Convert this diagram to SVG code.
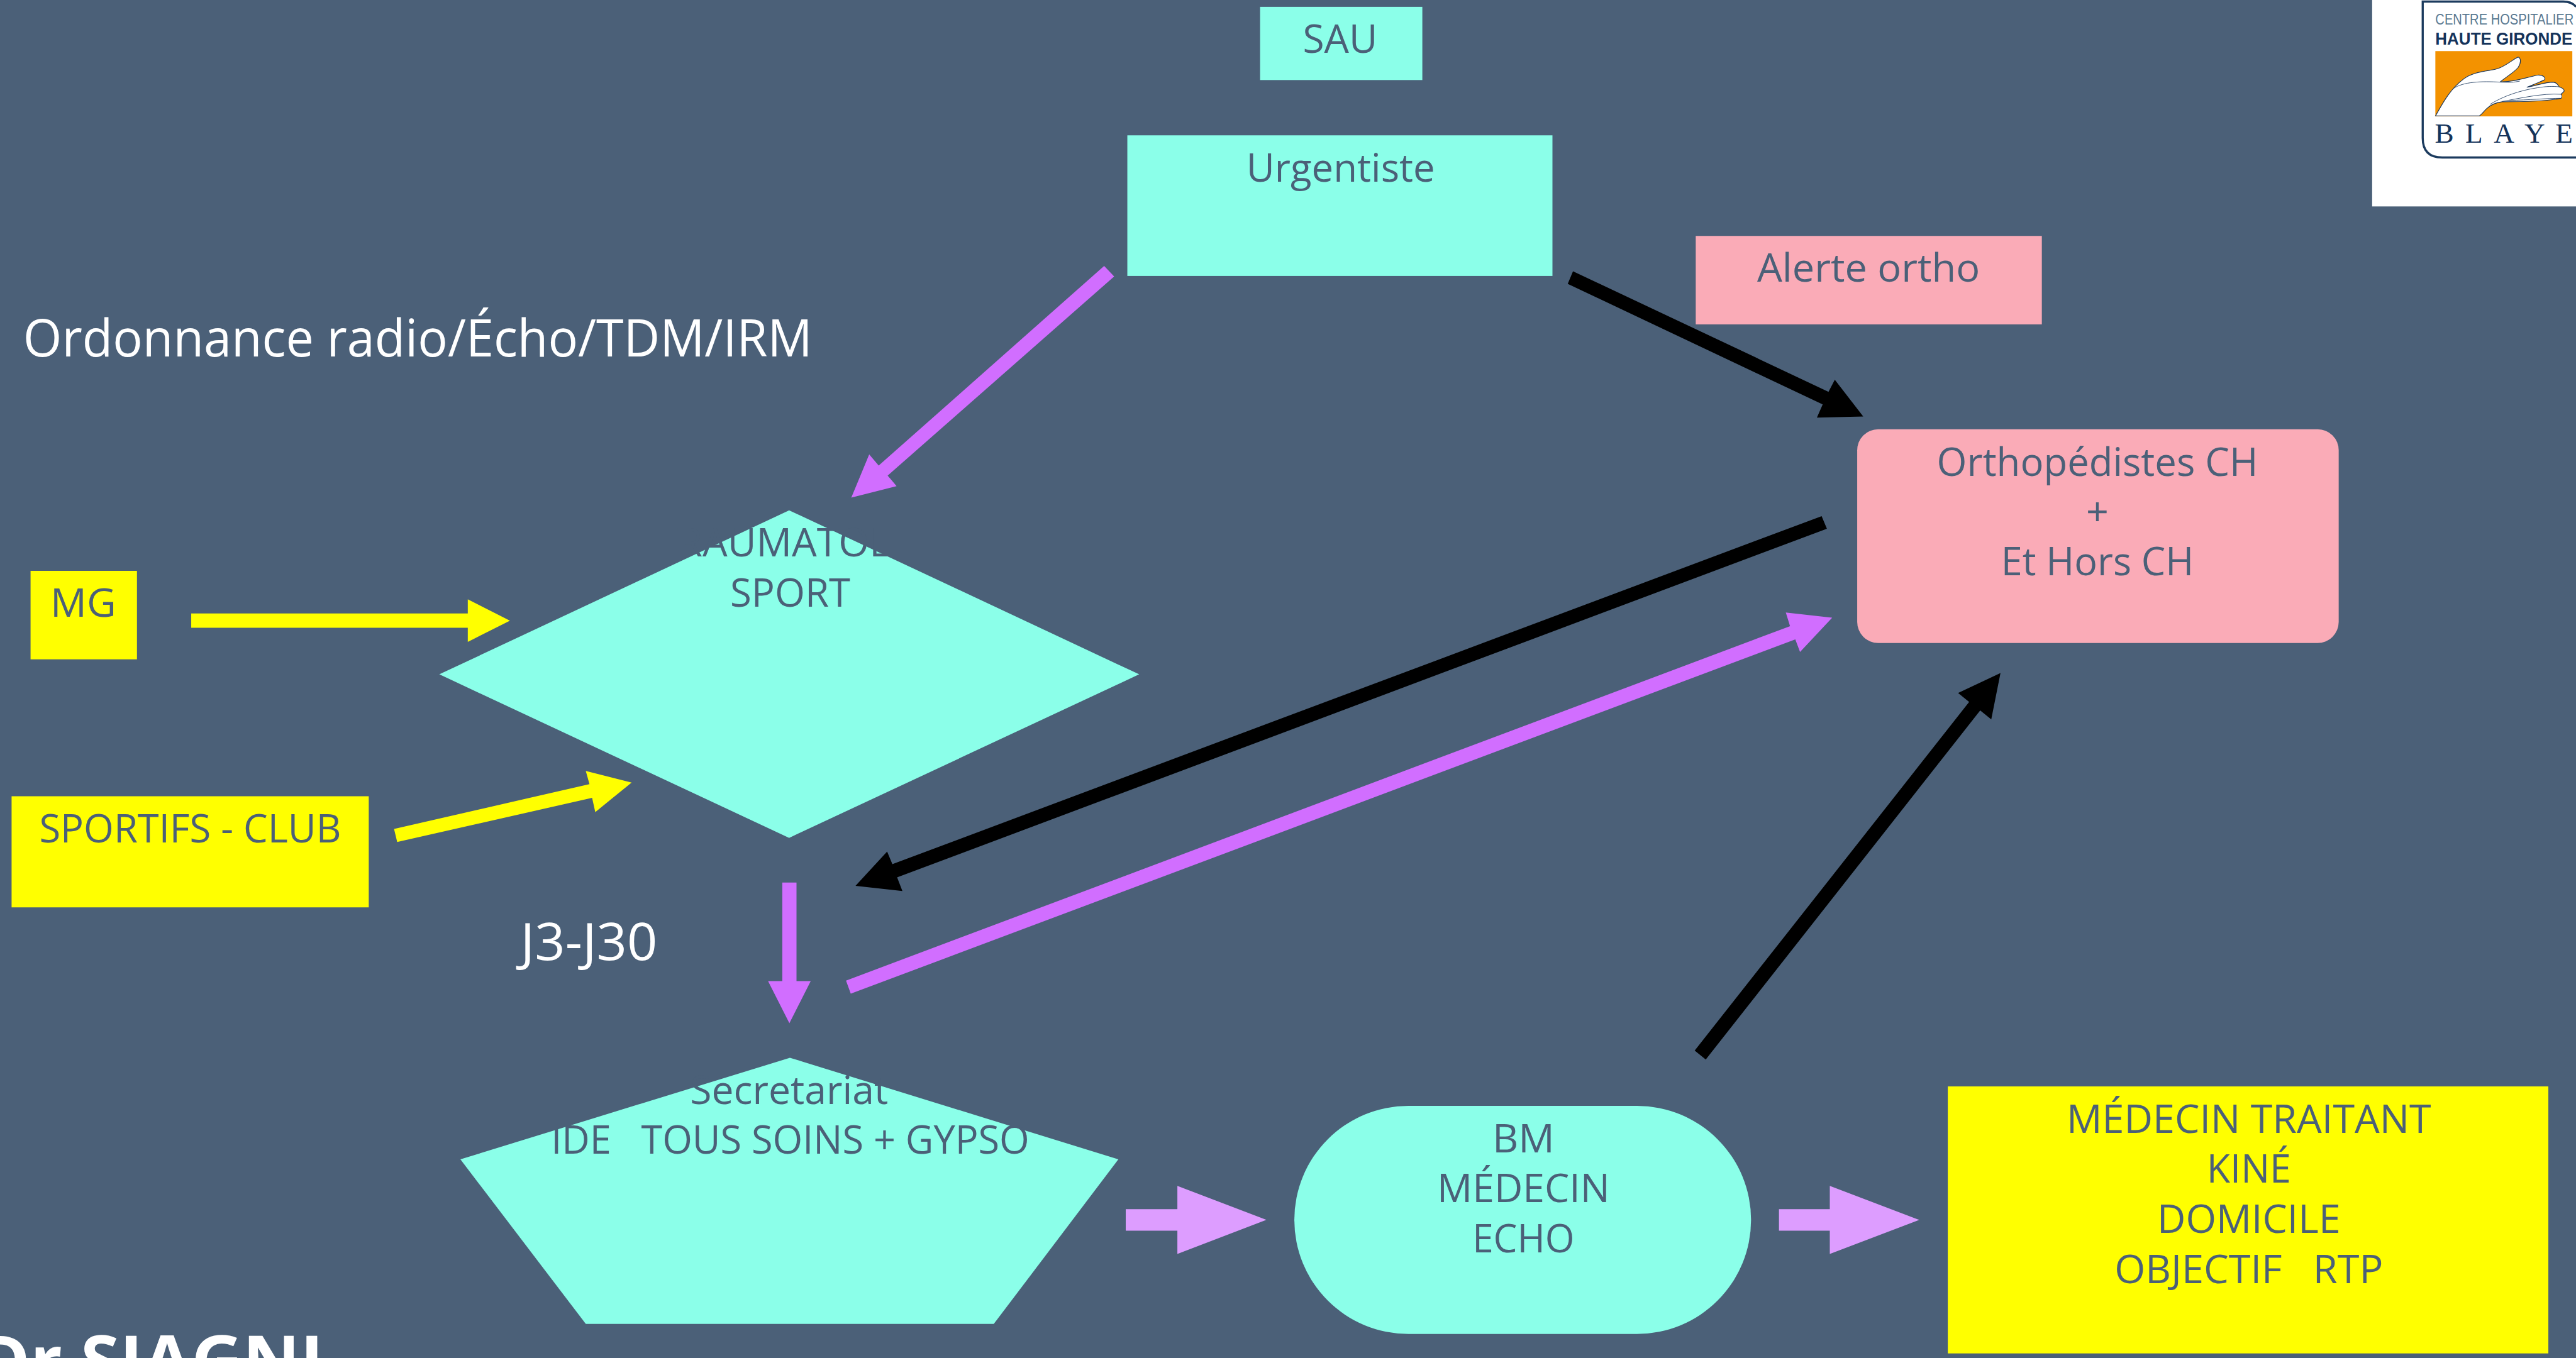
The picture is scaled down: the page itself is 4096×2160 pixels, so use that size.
<svg xmlns="http://www.w3.org/2000/svg" width="4096" height="2160" viewBox="0 0 4096 2160">
<style>
.t{font-family:"Open Sans","Liberation Sans",sans-serif;font-size:75px;fill:#4B6078;text-anchor:middle}
.w{font-family:"Open Sans","Liberation Sans",sans-serif;fill:#fff}
.aq{fill:#8BFFE9}.pk{fill:#FAABB7}.ye{fill:#FFFF00}
.vi{fill:#D16EFF}.bk{fill:#000}.ly{fill:#DD9DFF}.yl{fill:#FFFF00}
</style>
<rect width="4096" height="2160" fill="#4B6078"/>
<g transform="scale(0.83763)">
<g id="connectors">
<polygon class="vi" points="2096,505 2115,525 1685,903 1702,923 1616,945 1650,863 1668,884"/>
<polygon class="bk" points="2986,515 2976,539 3460,768 3449,793 3537,791 3483,721 3471,744"/>
<polygon class="yl" points="363,1165 888,1165 888,1138 968,1178.5 888,1219 888,1192 363,1192"/>
<polygon class="yl" points="748,1574 754,1599 1124,1515 1130,1542 1199,1486 1112,1464 1119,1489"/>
<polygon class="bk" points="3458,980 3468,1004 1703,1666 1713,1692 1624,1682 1684,1617 1694,1641"/>
<polygon class="vi" points="1606,1862 1615,1887 3408,1214 3417,1238 3478,1173 3390,1163 3398,1189"/>
<polygon class="vi" points="1485,1676 1512,1676 1512,1863 1539,1863 1498.5,1943 1458,1863 1485,1863"/>
<polygon class="bk" points="3217,1995 3238,2012 3759,1349 3780,1366 3797.5,1278 3717,1316 3738,1333"/>
<polygon class="ly" points="2137,2296 2235,2296 2235,2252 2404,2316.5 2235,2381 2235,2337 2137,2337"/>
<polygon class="ly" points="3377,2296 3473.5,2296 3473.5,2252 3643.5,2316.5 3473.5,2381 3473.5,2337 3377,2337"/>
</g>
<g id="sau"><rect class="aq" x="2392" y="13" width="308" height="139"/><text class="t" x="2544" y="100" textLength="142" lengthAdjust="spacingAndGlyphs">SAU</text></g>
<g id="urgentiste"><rect class="aq" x="2140" y="257" width="807" height="267"/><text class="t" x="2545" y="345.5" textLength="358" lengthAdjust="spacingAndGlyphs">Urgentiste</text></g>
<g id="alerte"><rect class="pk" x="3219" y="448" width="657" height="168"/><text class="t" x="3547" y="535" textLength="423" lengthAdjust="spacingAndGlyphs">Alerte ortho</text></g>
<g id="ordonnance"><text class="w" x="44" y="677" font-size="98" textLength="1498" lengthAdjust="spacingAndGlyphs">Ordonnance radio/Écho/TDM/IRM</text></g>
<g id="mg"><rect class="ye" x="58" y="1084" width="202" height="168"/><text class="t" x="158" y="1171" textLength="125" lengthAdjust="spacingAndGlyphs">MG</text></g>
<g id="sportifs"><rect class="ye" x="22" y="1512" width="678" height="211"/><text class="t" x="361" y="1600" textLength="573" lengthAdjust="spacingAndGlyphs">SPORTIFS - CLUB</text></g>
<g id="traumato"><polygon class="aq" points="1498,969 2162.5,1280.5 1498,1591 834,1280.5"/><text class="t" x="1246" y="1057" style="text-anchor:start">TRAUMATOL</text><text class="t" x="1500" y="1152.5" textLength="228" lengthAdjust="spacingAndGlyphs">SPORT</text></g>
<g id="j3"><text class="w" x="988" y="1823" font-size="98" textLength="260" lengthAdjust="spacingAndGlyphs">J3-J30</text></g>
<g id="orthopedistes"><rect class="pk" x="3525.5" y="815" width="914" height="406" rx="40"/><text class="t" x="3981.5" y="903.5" textLength="610" lengthAdjust="spacingAndGlyphs">Orthopédistes CH</text><text class="t" x="3981.5" y="998">+</text><text class="t" x="3981.5" y="1092" textLength="366" lengthAdjust="spacingAndGlyphs">Et Hors CH</text></g>
<g id="secretariat"><polygon class="aq" points="1499.5,2008.5 2123,2201.5 1886.5,2514 1112,2514 874,2201.5"/><text class="t" x="1498" y="2096" textLength="376" lengthAdjust="spacingAndGlyphs">Secretariat</text><text class="t" x="1500" y="2191" textLength="908" lengthAdjust="spacingAndGlyphs">IDE&#160;&#160; TOUS SOINS + GYPSO</text></g>
<g id="bm"><rect class="aq" x="2457" y="2100" width="867" height="433" rx="216.5"/><text class="t" x="2892" y="2188" textLength="118" lengthAdjust="spacingAndGlyphs">BM</text><text class="t" x="2892" y="2283" textLength="328" lengthAdjust="spacingAndGlyphs">MÉDECIN</text><text class="t" x="2892" y="2378.5" textLength="194" lengthAdjust="spacingAndGlyphs">ECHO</text></g>
<g id="medecin-traitant"><rect class="ye" x="3697.5" y="2063" width="1140" height="507"/><text class="t" x="4269" y="2151" textLength="692" lengthAdjust="spacingAndGlyphs">MÉDECIN TRAITANT</text><text class="t" x="4269" y="2246" textLength="160" lengthAdjust="spacingAndGlyphs">KINÉ</text><text class="t" x="4269" y="2341" textLength="348" lengthAdjust="spacingAndGlyphs">DOMICILE</text><text class="t" x="4269" y="2436.5" textLength="510" lengthAdjust="spacingAndGlyphs">OBJECTIF&#160;&#160; RTP</text></g>
<g id="author"><text class="w" x="-42" y="2630" font-size="130" font-weight="700" textLength="656" lengthAdjust="spacingAndGlyphs">Dr SIAGNI</text></g>
<g id="logo">
<rect x="4503" y="0" width="387" height="392" fill="#fff"/>
<path d="M4890 299H4636Q4599 299 4599 262V3H4866Q4882 3 4890 13" fill="none" stroke="#1C3B5E" stroke-width="4"/>
<text transform="translate(4623 47) scale(.858 1)" font-family="Liberation Sans,sans-serif" font-size="28" fill="#5A7A92">CENTRE HOSPITALIER</text>
<text transform="translate(4623 85) scale(.94 1)" font-family="Liberation Sans,sans-serif" font-size="33" font-weight="700" fill="#15335A">HAUTE GIRONDE</text>
<rect x="4623" y="97" width="260" height="124" fill="#F39200"/>
<g transform="translate(4450 0) scale(.3333)" fill="#fff" stroke="#15335A" stroke-width="4">
<path d="M520 660C560 590 600 510 680 450C730 410 810 405 860 395C910 385 950 345 990 325C1008 330 1008 360 990 385C970 410 920 440 890 465C960 470 1040 440 1100 428C1135 425 1150 445 1140 455C1110 470 1070 485 1040 497C1100 485 1150 468 1190 468C1215 470 1220 490 1225 495C1240 500 1255 510 1252 520C1245 530 1235 535 1235 537C1242 545 1240 555 1235 560C1180 572 1050 580 900 580C860 585 830 600 810 620C795 635 785 650 770 660Z"/>
<path d="M620 505C680 465 780 462 890 468C950 470 960 470 1000 462M830 595C900 550 1000 515 1100 500C1150 492 1190 490 1225 495M900 578C1000 560 1130 530 1235 537M940 572C1050 570 1150 560 1235 560" fill="none" stroke-width="3"/>
</g>
<text font-family="Liberation Serif,serif" font-size="54" fill="#15335A" y="271" x="4622 4680 4734 4792 4851">BLAYE</text>
</g>
</g>
</svg>
